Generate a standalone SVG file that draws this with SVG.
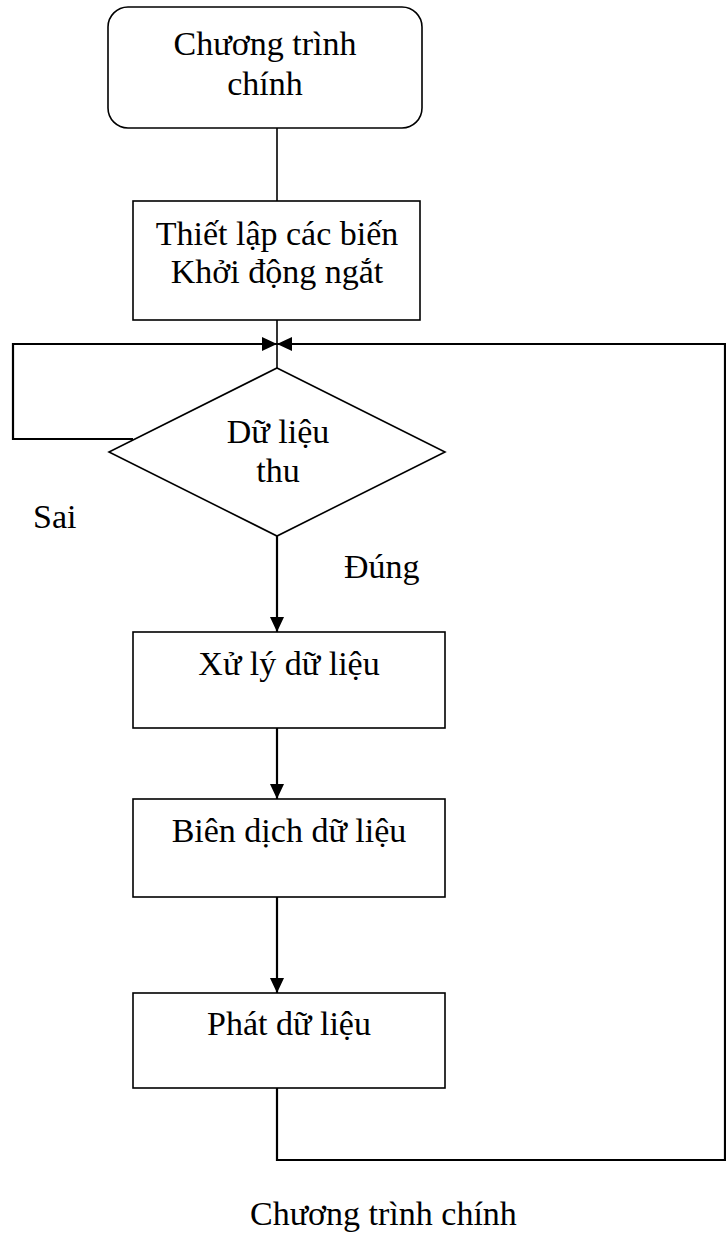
<svg xmlns="http://www.w3.org/2000/svg" width="726" height="1237" viewBox="0 0 726 1237">
<style>
.box{fill:#fff;stroke:#000;stroke-width:1.6}
.ln{fill:none;stroke:#000;stroke-width:1.6}
.ar{fill:none;stroke:#000;stroke-width:2.2}
text{font-family:"Liberation Serif","Times New Roman",serif;font-size:34px;fill:#000}
.c{text-anchor:middle}
</style>
<defs>
<marker id="ah" viewBox="0 0 15 14" refX="15" refY="7" markerWidth="15" markerHeight="14" markerUnits="userSpaceOnUse" orient="auto">
<path d="M0,0 L15,7 L0,14 z" fill="#000"/>
</marker>
</defs>
<g id="connectors">
<path class="ln" d="M277,128 V201"/>
<path class="ln" d="M277,320 V368"/>
<path class="ar" d="M133,439 H13 V344 H277" marker-end="url(#ah)"/>
<path class="ar" d="M277,1088 V1160 H725 V344 H277" marker-end="url(#ah)"/>
<path class="ar" d="M277,536 V632" marker-end="url(#ah)"/>
<path class="ar" d="M277,728 V799" marker-end="url(#ah)"/>
<path class="ar" d="M277,897 V993" marker-end="url(#ah)"/>
</g>
<g id="start">
<rect class="box" x="108" y="7" width="314" height="121" rx="20"/>
<text class="c" x="265" y="55">Chương trình</text>
<text class="c" x="265" y="95">chính</text>
</g>
<g id="init">
<rect class="box" x="133" y="201" width="287" height="119"/>
<text class="c" x="277" y="245">Thiết lập các biến</text>
<text class="c" x="277" y="283">Khởi động ngắt</text>
</g>
<g id="decision">
<polygon class="box" points="277,368 445,452 277,536 109,452"/>
<text class="c" x="278" y="443">Dữ liệu</text>
<text class="c" x="278" y="482">thu</text>
</g>
<g id="labels">
<text x="33" y="528">Sai</text>
<text x="344" y="578">Đúng</text>
</g>
<g id="process">
<rect class="box" x="133" y="632" width="312" height="96"/>
<text class="c" x="289" y="675">Xử lý dữ liệu</text>
</g>
<g id="compile">
<rect class="box" x="133" y="799" width="312" height="98"/>
<text class="c" x="289" y="842">Biên dịch dữ liệu</text>
</g>
<g id="transmit">
<rect class="box" x="133" y="993" width="312" height="95"/>
<text class="c" x="289" y="1035">Phát dữ liệu</text>
</g>
<g id="caption">
<text x="250" y="1225">Chương trình chính</text>
</g>
</svg>
